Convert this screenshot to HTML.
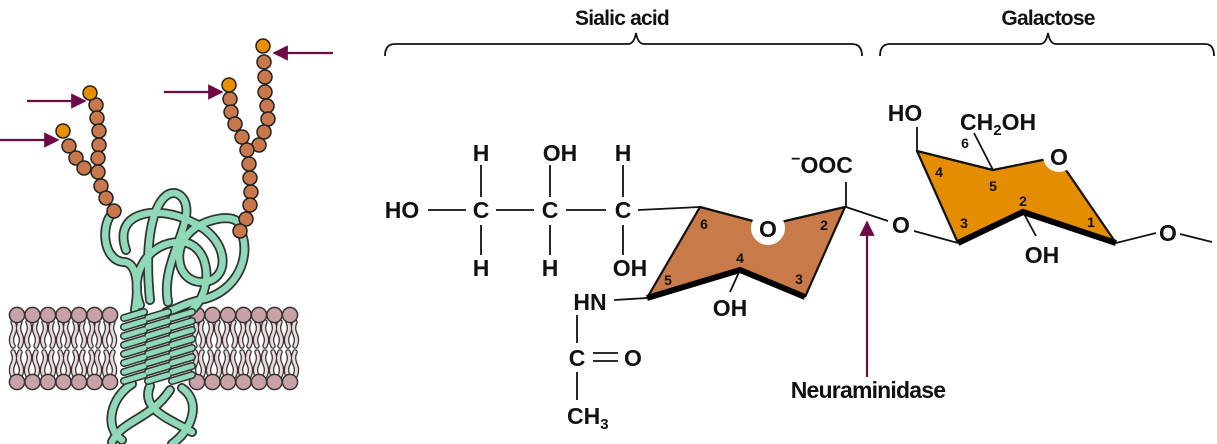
<!DOCTYPE html>
<html><head><meta charset="utf-8"><style>
html,body{margin:0;padding:0;background:#fff}
svg{display:block}
text{font-family:"Liberation Sans",sans-serif;fill:#111}
.a{font-size:23px;font-weight:bold}
.n{font-size:14px;font-weight:bold}
</style></head><body>
<svg width="1217" height="444" viewBox="0 0 1217 444" xmlns="http://www.w3.org/2000/svg">
<defs>
<marker id="ah" viewBox="0 0 10 10" refX="9" refY="5" markerWidth="9" markerHeight="7" orient="auto-start-reverse" markerUnits="strokeWidth"><path d="M0,0 L10,5 L0,10 Z" fill="#6e0a45"/></marker>
<path id="tl" d="M13,322 q3,6 0,12 q-3,6 0,12 M20,322 q-3,6 0,12 q3,6 0,12 M28,322 q3,6 0,12 q-3,6 0,12 M36,322 q-3,6 0,12 q3,6 0,12 M44,322 q3,6 0,12 q-3,6 0,12 M52,322 q-3,6 0,12 q3,6 0,12 M60,322 q3,6 0,12 q-3,6 0,12 M67,322 q-3,6 0,12 q3,6 0,12 M75,322 q3,6 0,12 q-3,6 0,12 M83,322 q-3,6 0,12 q3,6 0,12 M91,322 q3,6 0,12 q-3,6 0,12 M98,322 q-3,6 0,12 q3,6 0,12 M106,322 q3,6 0,12 q-3,6 0,12 M113,322 q-3,6 0,12 q3,6 0,12"/>
<g id="tl4">
<use href="#tl"/><use href="#tl" transform="translate(0,30)"/><use href="#tl" transform="translate(182,0)"/><use href="#tl" transform="translate(182,30)"/>
</g>
<path id="hxp" d="M124,318 l20,-6 M148,318 l20,-6 M172,318 l20,-6 M124,327 l20,-6 M148,327 l20,-6 M172,327 l20,-6 M124,336 l20,-6 M148,336 l20,-6 M172,336 l20,-6 M124,345 l20,-6 M148,345 l20,-6 M172,345 l20,-6 M124,354 l20,-6 M148,354 l20,-6 M172,354 l20,-6 M124,363 l20,-6 M148,363 l20,-6 M172,363 l20,-6 M124,372 l20,-6 M148,372 l20,-6 M172,372 l20,-6 M124,381 l20,-6 M148,381 l20,-6 M172,381 l20,-6"/>
<path id="p1" d="M114,212 C100,222 102,262 125,262 M126,250 C112,210 160,205 192,222 C232,240 230,282 202,282 C174,282 170,240 200,225 C222,214 244,216 240,232 M240,230 C252,252 240,292 200,300 C182,304 176,310 166,312 M150,300 C140,200 172,180 184,200 C196,222 160,262 168,302 M140,305 C128,272 150,242 180,242 C210,242 216,290 190,312 M125,262 C135,264 140,280 135,310"/>
<path id="p2" d="M132,384 C110,398 104,428 122,440 M150,386 C140,410 172,420 192,432 M170,390 C150,420 122,420 112,442 M182,388 C202,402 192,430 172,444"/>
</defs>
<text x="622" y="25" font-size="21" font-weight="bold" text-anchor="middle" letter-spacing="-0.8">Sialic acid</text>
<text x="1048" y="25" font-size="21" font-weight="bold" text-anchor="middle" letter-spacing="-0.8">Galactose</text>
<path d="M385,56 Q385,44 395,44 L628,44 Q634,44 636,33 Q638,44 644,44 L852,44 Q862,44 862,56" fill="none" stroke="#111" stroke-width="1.8"/>
<path d="M880,56 Q880,44 890,44 L1040,44 Q1046,44 1048,33 Q1050,44 1056,44 L1205,44 Q1214,44 1214,56" fill="none" stroke="#111" stroke-width="1.8"/>

<g fill="none" stroke-linecap="round">
<use href="#tl4" stroke="#333" stroke-width="5.5"/>
<use href="#tl4" stroke="#ecdada" stroke-width="3"/>
</g>
<g fill="#c9a2a6" stroke="#333" stroke-width="1.5">
<g id="hr">
<circle cx="17" cy="315" r="7.6"/><circle cx="32.5" cy="315" r="7.6"/><circle cx="48" cy="315" r="7.6"/><circle cx="63.5" cy="315" r="7.6"/><circle cx="79" cy="315" r="7.6"/><circle cx="94.5" cy="315" r="7.6"/><circle cx="110" cy="315" r="7.6"/>
</g>
<use href="#hr" transform="translate(0,67)"/>
<use href="#hr" transform="translate(180,0)"/>
<use href="#hr" transform="translate(180,67)"/>
</g>

<g fill="none" stroke-linecap="round">
<use href="#p1" stroke="#333" stroke-width="10"/>
<use href="#p2" stroke="#333" stroke-width="10"/>
<use href="#p1" stroke="#8fd9b8" stroke-width="6.5"/>
<use href="#p2" stroke="#8fd9b8" stroke-width="6.5"/>
<use href="#hxp" stroke="#333" stroke-width="8"/>
<use href="#hxp" stroke="#8fd9b8" stroke-width="5"/>
</g>

<g stroke="#222" stroke-width="1.5" fill="#c8784a">
<circle cx="96" cy="105" r="7"/><circle cx="97" cy="118" r="7"/><circle cx="99" cy="131" r="7"/><circle cx="99" cy="145" r="7"/><circle cx="98" cy="158" r="7"/><circle cx="98" cy="172" r="7"/><circle cx="101" cy="186" r="7"/><circle cx="106" cy="198" r="7"/><circle cx="114" cy="211" r="7"/>
<circle cx="69" cy="146" r="7"/><circle cx="76" cy="158" r="7"/><circle cx="84" cy="168" r="7"/>
<circle cx="264" cy="62" r="7"/><circle cx="265" cy="77" r="7"/><circle cx="265" cy="92" r="7"/><circle cx="267" cy="106" r="7"/><circle cx="268" cy="119" r="7"/><circle cx="264" cy="132" r="7"/><circle cx="259" cy="145" r="7"/>
<circle cx="230" cy="99" r="7"/><circle cx="231" cy="112" r="7"/><circle cx="235" cy="124" r="7"/><circle cx="242" cy="137" r="7"/><circle cx="247" cy="150" r="7"/><circle cx="249" cy="164" r="7"/><circle cx="250" cy="178" r="7"/><circle cx="251" cy="192" r="7"/><circle cx="250" cy="205" r="7"/><circle cx="246" cy="219" r="7"/><circle cx="240" cy="231" r="7"/>
</g>
<g stroke="#222" stroke-width="1.5" fill="#e88f00">
<circle cx="90" cy="93" r="7"/><circle cx="63" cy="131" r="7"/><circle cx="263" cy="46" r="7"/><circle cx="229" cy="85" r="7"/>
</g>
<g stroke="#6e0a45" stroke-width="2.2" fill="none">
<line x1="0" y1="140" x2="58" y2="140" marker-end="url(#ah)"/>
<line x1="27" y1="101" x2="85" y2="101" marker-end="url(#ah)"/>
<line x1="164" y1="92" x2="222" y2="92" marker-end="url(#ah)"/>
<line x1="333" y1="53" x2="274" y2="53" marker-end="url(#ah)"/>
<line x1="867" y1="377" x2="867" y2="222" marker-end="url(#ah)"/>
</g>

<polygon points="700,207 768,225 845,207 805,297 740,270 647,298" fill="#c87a48"/>
<path d="M647,298 L700,207 L768,225 L845,207 L805,297" fill="none" stroke="#111" stroke-width="2.2" stroke-linejoin="round"/>
<path d="M647,298 L740,270 L805,297" fill="none" stroke="#000" stroke-width="6"/>
<circle cx="768" cy="228" r="17" fill="#fff"/>
<text class="a" x="768" y="237" text-anchor="middle">O</text>
<text class="n" x="704" y="229" text-anchor="middle">6</text>
<text class="n" x="824" y="230" text-anchor="middle">2</text>
<text class="n" x="740" y="263" text-anchor="middle">4</text>
<text class="n" x="799" y="284" text-anchor="middle">3</text>
<text class="n" x="668" y="285" text-anchor="middle">5</text>

<g stroke="#111" stroke-width="1.8">
<line x1="428" y1="210" x2="466" y2="210"/><line x1="496" y1="210" x2="534" y2="210"/><line x1="566" y1="210" x2="606" y2="210"/><line x1="638" y1="210" x2="700" y2="207"/>
<line x1="481" y1="165" x2="481" y2="197"/><line x1="481" y1="225" x2="481" y2="255"/>
<line x1="550" y1="165" x2="550" y2="197"/><line x1="550" y1="225" x2="550" y2="255"/>
<line x1="623" y1="165" x2="623" y2="197"/><line x1="623" y1="225" x2="623" y2="255"/>
<line x1="614" y1="300" x2="647" y2="298"/>
<line x1="577" y1="315" x2="577" y2="343"/><line x1="577" y1="372" x2="577" y2="400"/>
<line x1="593" y1="353" x2="618" y2="353"/><line x1="593" y1="361" x2="618" y2="361"/>
<line x1="740" y1="270" x2="730" y2="292"/>
<line x1="846" y1="207" x2="846" y2="182"/>
<line x1="846" y1="207" x2="888" y2="221"/>
<line x1="914" y1="231" x2="958" y2="243"/>
<line x1="917" y1="151" x2="917" y2="127"/>
<line x1="993" y1="170" x2="974" y2="133"/>
<line x1="1023" y1="212" x2="1036" y2="236"/>
<line x1="1116" y1="243" x2="1156" y2="233"/>
<line x1="1180" y1="234" x2="1212" y2="242"/>
</g>
<text class="a" x="402" y="218" text-anchor="middle">HO</text>
<text class="a" x="481" y="218" text-anchor="middle">C</text>
<text class="a" x="550" y="218" text-anchor="middle">C</text>
<text class="a" x="623" y="218" text-anchor="middle">C</text>
<text class="a" x="481" y="161" text-anchor="middle">H</text>
<text class="a" x="560" y="161" text-anchor="middle">OH</text>
<text class="a" x="623" y="161" text-anchor="middle">H</text>
<text class="a" x="481" y="276" text-anchor="middle">H</text>
<text class="a" x="550" y="276" text-anchor="middle">H</text>
<text class="a" x="630" y="276" text-anchor="middle">OH</text>
<text class="a" x="590" y="310" text-anchor="middle">HN</text>
<text class="a" x="577" y="366" text-anchor="middle">C</text>
<text class="a" x="633" y="366" text-anchor="middle">O</text>
<text class="a" x="567" y="424">CH<tspan font-size="15" dy="5">3</tspan></text>
<text class="a" x="730" y="316" text-anchor="middle">OH</text>
<text class="a" x="822" y="173" text-anchor="middle"><tspan font-size="16" dy="-9">−</tspan><tspan dy="9">OOC</tspan></text>
<text class="a" x="901" y="233" text-anchor="middle">O</text>
<text x="868" y="398" font-size="23" font-weight="bold" text-anchor="middle" letter-spacing="-0.8">Neuraminidase</text>

<polygon points="917,151 993,170 1057,157 1116,243 1023,212 958,243" fill="#e58d00"/>
<path d="M958,243 L917,151 L993,170 L1057,157 L1116,243" fill="none" stroke="#111" stroke-width="2.2" stroke-linejoin="round"/>
<path d="M958,243 L1023,212 L1116,243" fill="none" stroke="#000" stroke-width="6"/>
<circle cx="1059" cy="156" r="16" fill="#fff"/>
<text class="a" x="1059" y="165" text-anchor="middle">O</text>
<text class="a" x="905" y="121" text-anchor="middle">HO</text>
<text class="a" x="960" y="130">CH<tspan font-size="15" dy="5">2</tspan><tspan dy="-5">OH</tspan></text>
<text class="a" x="1042" y="263" text-anchor="middle">OH</text>
<text class="a" x="1168" y="241" text-anchor="middle">O</text>
<text class="n" x="965" y="148" text-anchor="middle">6</text>
<text class="n" x="939" y="177" text-anchor="middle">4</text>
<text class="n" x="993" y="191" text-anchor="middle">5</text>
<text class="n" x="1023" y="206" text-anchor="middle">2</text>
<text class="n" x="964" y="228" text-anchor="middle">3</text>
<text class="n" x="1091" y="227" text-anchor="middle">1</text>
</svg>
</body></html>
